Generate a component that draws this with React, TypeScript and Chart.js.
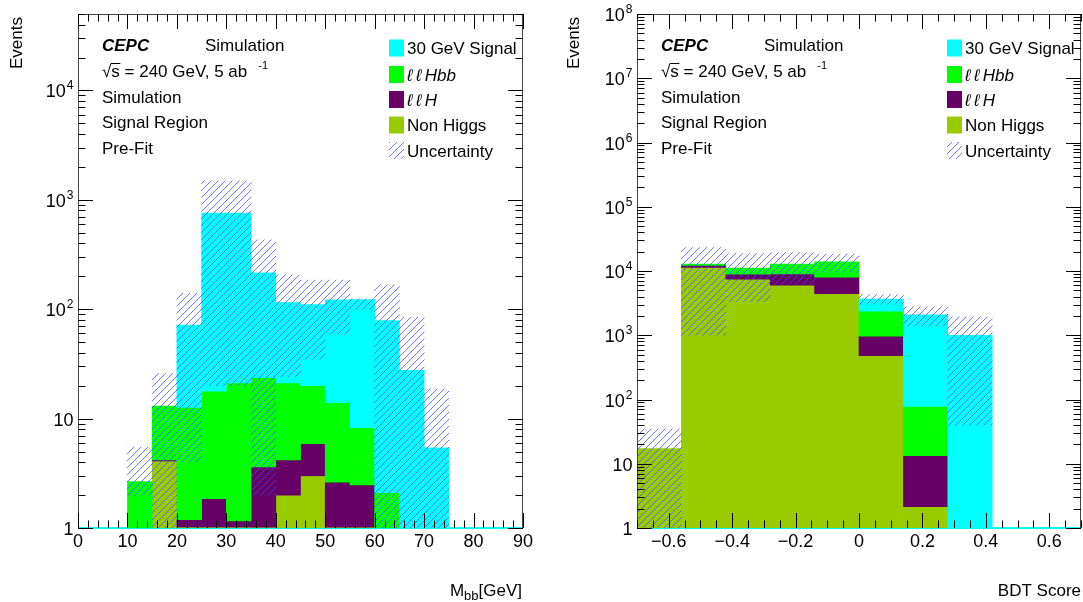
import React, { useEffect, useRef } from "react";
import { Chart, registerables } from "chart.js";
Chart.register(...registerables);

const FONT = "'Liberation Sans', Arial, Helvetica, sans-serif";

// ---------------- Left panel: M_bb ----------------
const mbbBinCenters = [12.5, 17.5, 22.5, 27.5, 32.5, 37.5, 42.5, 47.5, 52.5, 57.5, 62.5, 67.5, 72.5];
const mbbNonHiggs = [0, 4.1, 1.02, 1.02, 1.02, 1.02, 2.0, 3.0, 1.02, 1.02, 0, 0, 0];
const mbbLLH = [0, 0.1, 0.17, 0.83, 0.14, 2.6, 2.2, 2.9, 1.6, 1.45, 0, 0, 0];
const mbbLLHbb = [2.65, 8.8, 11.5, 16.0, 20.0, 20.1, 17.0, 14.1, 11.4, 5.8, 2.1, 0, 0];
const mbbSignal = [0, 0, 59, 737, 734, 192, 94, 90, 108, 114, 76.6, 27.6, 5.4];
const mbbUncLow = [2.0, 1, 4, 20, 20, 2, 24, 35, 59, 100, 1, 1, 1];
const mbbUncHigh = [5.5, 25.8, 140, 1490, 1490, 430, 206, 185, 185, 124, 167, 84.5, 18.6];
const mbbXTicks = [0, 10, 20, 30, 40, 50, 60, 70, 80, 90];
const mbbXTickLabels = ["0", "10", "20", "30", "40", "50", "60", "70", "80", "90"];
const mbbYTicks = [1, 10, 100, 1000, 10000];

// ---------------- Right panel: BDT score ----------------
const bdtBinCenters = [-0.63, -0.49, -0.35, -0.21, -0.07, 0.07, 0.21, 0.35, 0.49, 0.63];
const bdtNonHiggs = [17.3, 11400, 7450, 6020, 4430, 481, 2.14, 0, 0, 0];
const bdtLLH = [0, 800, 1440, 2980, 3570, 485, 11.2, 0, 0, 0];
const bdtLLHbb = [0, 600, 2210, 3800, 5900, 1404, 64.7, 0, 0, 0];
const bdtSignal = [0, 0, 0, 0, 0, 1290, 2002, 1000, 0, 0];
const bdtUncLow = [1, 1000, 3370, 6200, 9500, 3040, 1400, 40, 0, 0];
const bdtUncHigh = [35, 23100, 18700, 19400, 18300, 4280, 2760, 1940, 0, 0];
const bdtXTicks = [-0.6, -0.4, -0.2, 0, 0.2, 0.4, 0.6];
const bdtXTickLabels = ["\u22120.6", "\u22120.4", "\u22120.2", "0", "0.2", "0.4", "0.6"];
const bdtYTicks = [1, 10, 1e2, 1e3, 1e4, 1e5, 1e6, 1e7, 1e8];

// legend / series
const legendLabels = ["30 GeV Signal", "\u2113\u2009\u2113\u2009Hbb", "\u2113\u2009\u2113\u2009H", "Non Higgs", "Uncertainty"];
const infoLines = ["Simulation", "Signal Region", "Pre-Fit"];

const C_SIGNAL = "#00ffff";
const C_LLHBB = "#00ff00";
const C_LLH = "#660066";
const C_NONHIGGS = "#99cc00";
const LAYER_COLORS = [C_NONHIGGS, C_LLH, C_LLHBB, C_SIGNAL]; // bottom -> top
const FRAME = "#444";

type PanelCfg = {
  key: string;
  left: number;
  width: number;
  yAxisWidth: number;
  padRight: number;
  xMin: number;
  xMax: number;
  yMin: number;
  yMax: number;
  xStep: number;
  xMinorStep: number;
  binCenters: number[];
  layers: number[][];
  uncLow: number[];
  uncHigh: number[];
  xTicks: number[];
  xTickLabels: string[];
  yTicks: number[];
  xTitle: "mbb" | "bdt";
  titleX: number;
};

function makeHatch(ctx: CanvasRenderingContext2D): CanvasPattern | string {
  const s = 7;
  const c = document.createElement("canvas");
  c.width = s;
  c.height = s;
  const g = c.getContext("2d")!;
  g.strokeStyle = "rgba(70,70,255,0.75)";
  g.lineWidth = 1;
  g.beginPath();
  g.moveTo(0, s);
  g.lineTo(s, 0);
  g.moveTo(-1, 1);
  g.lineTo(1, -1);
  g.moveTo(s - 1, s + 1);
  g.lineTo(s + 1, s - 1);
  g.stroke();
  return ctx.createPattern(c, "repeat") || "rgba(70,70,255,0.3)";
}

function stackRanges(layers: number[][], base: number) {
  const n = layers[0].length;
  const cum = new Array(n).fill(0);
  return layers.map((layer) =>
    layer.map((v, i) => {
      const lo = cum[i] > 0 ? cum[i] : base;
      cum[i] += v;
      return [lo, cum[i]];
    })
  );
}

function drawPow(ctx: CanvasRenderingContext2D, v: number, xr: number, yb: number) {
  const e = Math.round(Math.log10(v));
  ctx.textAlign = "right";
  ctx.textBaseline = "alphabetic";
  if (e <= 1) {
    ctx.font = `18px ${FONT}`;
    ctx.fillText(e === 0 ? "1" : "10", xr, yb);
    return;
  }
  ctx.font = `12px ${FONT}`;
  const s = String(e);
  const sw = ctx.measureText(s).width;
  ctx.fillText(s, xr, yb - 8);
  ctx.font = `18px ${FONT}`;
  ctx.fillText("10", xr - sw - 1, yb);
}

function makePlugin(cfg: PanelCfg, hatchRef: { p: CanvasPattern | string | null }) {
  return {
    id: "rootStyle" + cfg.key,
    beforeDatasetsDraw(chart: any) {
      const { ctx, chartArea: a } = chart;
      ctx.save();
      ctx.strokeStyle = FRAME;
      ctx.lineWidth = 1;
      ctx.beginPath();
      ctx.moveTo(a.left, a.bottom - 0.5);
      ctx.lineTo(a.right, a.bottom - 0.5);
      ctx.stroke();
      ctx.restore();
    },
    afterDatasetsDraw(chart: any) {
      const { ctx, chartArea: a, scales } = chart;
      const x = scales.x;
      const y = scales.y;
      ctx.save();
      // frame (left, top, right)
      ctx.strokeStyle = FRAME;
      ctx.lineWidth = 1;
      ctx.beginPath();
      ctx.moveTo(a.left + 0.5, a.bottom);
      ctx.lineTo(a.left + 0.5, a.top + 0.5);
      ctx.lineTo(a.right - 0.5, a.top + 0.5);
      ctx.lineTo(a.right - 0.5, a.bottom);
      ctx.stroke();

      // ticks
      ctx.strokeStyle = "#000";
      ctx.beginPath();
      const nMinor = Math.round((cfg.xMax - cfg.xMin) / cfg.xMinorStep);
      const start = Math.ceil(cfg.xMin / cfg.xMinorStep - 1e-6);
      for (let k = start; k * cfg.xMinorStep <= cfg.xMax + 1e-9 && k - start <= nMinor + 1; k++) {
        const v = k * cfg.xMinorStep;
        const ratio = v / cfg.xStep;
        const major = Math.abs(ratio - Math.round(ratio)) < 1e-6;
        const len = major ? 15 : 7.5;
        const px = Math.round(x.getPixelForValue(v)) + 0.5;
        ctx.moveTo(px, a.bottom);
        ctx.lineTo(px, a.bottom - len);
        ctx.moveTo(px, a.top);
        ctx.lineTo(px, a.top + len);
      }
      const d0 = Math.round(Math.log10(cfg.yMin));
      const d1 = Math.ceil(Math.log10(cfg.yMax));
      for (let d = d0; d <= d1; d++) {
        for (let m = 1; m <= 9; m++) {
          const v = m * Math.pow(10, d);
          if (v > cfg.yMax * 1.0001 || v < cfg.yMin) continue;
          const len = m === 1 ? 15 : 7.5;
          const py = Math.round(y.getPixelForValue(v)) + 0.5;
          ctx.moveTo(a.left, py);
          ctx.lineTo(a.left + len, py);
          ctx.moveTo(a.right, py);
          ctx.lineTo(a.right - len, py);
        }
      }
      ctx.stroke();

      // tick labels
      ctx.fillStyle = "#000";
      ctx.font = `18px ${FONT}`;
      ctx.textAlign = "center";
      ctx.textBaseline = "alphabetic";
      cfg.xTicks.forEach((v, i) => {
        ctx.fillText(cfg.xTickLabels[i], x.getPixelForValue(v), a.bottom + 19);
      });
      cfg.yTicks.forEach((v) => {
        drawPow(ctx, v, a.left - 4.5, y.getPixelForValue(v) + 7);
      });

      // axis titles
      ctx.save();
      ctx.font = `17px ${FONT}`;
      ctx.translate(cfg.titleX, 17);
      ctx.rotate(-Math.PI / 2);
      ctx.textAlign = "right";
      ctx.textBaseline = "middle";
      ctx.fillText("Events", 0, 0);
      ctx.restore();

      const xr = a.right - 1;
      const xb = 596;
      ctx.textAlign = "left";
      if (cfg.xTitle === "mbb") {
        ctx.font = `17px ${FONT}`;
        const w1 = ctx.measureText("[GeV]").width;
        const wM = ctx.measureText("M").width;
        ctx.font = `13px ${FONT}`;
        const w2 = ctx.measureText("bb").width;
        const x0 = xr - w1 - w2 - wM;
        ctx.font = `17px ${FONT}`;
        ctx.fillText("M", x0, xb);
        ctx.fillText("[GeV]", x0 + wM + w2, xb);
        ctx.font = `13px ${FONT}`;
        ctx.fillText("bb", x0 + wM, xb + 4);
      } else {
        ctx.font = `17px ${FONT}`;
        ctx.textAlign = "right";
        ctx.fillText("BDT Score", xr + 1, xb);
      }

      // info text block
      const tx = a.left + 24;
      const base = [51, 77, 103, 128, 154];
      ctx.textAlign = "left";
      ctx.font = `italic bold 17px ${FONT}`;
      ctx.fillText("CEPC", tx, base[0]);
      ctx.font = `17px ${FONT}`;
      ctx.fillText("Simulation", a.left + 127, base[0]);
      // sqrt(s) line
      const sq = "\u221A";
      const wsq = ctx.measureText(sq).width;
      ctx.fillText(sq, tx, base[1]);
      const ws = ctx.measureText("s").width;
      ctx.fillText("s", tx + wsq, base[1]);
      ctx.beginPath();
      ctx.lineWidth = 1;
      ctx.strokeStyle = "#000";
      ctx.moveTo(tx + wsq - 0.5, base[1] - 13.5);
      ctx.lineTo(tx + wsq + ws + 0.5, base[1] - 13.5);
      ctx.stroke();
      const rest = " = 240 GeV, 5 ab";
      ctx.fillText(rest, tx + wsq + ws, base[1]);
      const wr = ctx.measureText(rest).width;
      ctx.font = `11px ${FONT}`;
      ctx.fillText("-1", tx + wsq + ws + wr + 11, base[1] - 8);
      ctx.font = `17px ${FONT}`;
      infoLines.forEach((t, i) => ctx.fillText(t, tx, base[2 + i]));

      // legend
      const bx = a.right - 134;
      const rows = [48, 74.5, 99.5, 125, 150.5];
      const boxColors = [C_SIGNAL, C_LLHBB, C_LLH, C_NONHIGGS];
      rows.forEach((cy, i) => {
        if (i < 4) {
          ctx.fillStyle = boxColors[i];
          ctx.fillRect(bx, cy - 8.5, 15, 17);
        } else if (hatchRef.p) {
          ctx.fillStyle = hatchRef.p as any;
          ctx.fillRect(bx, cy - 8.5, 15, 17);
        }
        ctx.fillStyle = "#000";
        ctx.font = i === 1 || i === 2 ? `italic 17px ${FONT}` : `17px ${FONT}`;
        ctx.fillText(legendLabels[i], bx + 18, cy + 6);
      });
      ctx.restore();
    },
  };
}

function Panel({ cfg }: { cfg: PanelCfg }) {
  const ref = useRef<HTMLCanvasElement>(null);
  useEffect(() => {
    const canvas = ref.current!;
    const ctx = canvas.getContext("2d")!;
    const hatch = makeHatch(ctx);
    const hatchRef = { p: hatch };
    const ranges = stackRanges(cfg.layers, cfg.yMin);
    const common = {
      borderWidth: 0,
      grouped: false,
      barPercentage: 1,
      categoryPercentage: 1,
      clip: 0,
    };
    const layerNames = ["Non Higgs", "llH", "llHbb", "30 GeV Signal"];
    const layerSets = cfg.layers.map((layer, li) => ({
      type: "bar" as const,
      label: layerNames[li],
      data: cfg.binCenters
        .map((xv, i) => ({ x: xv, y: ranges[li][i] }))
        .filter((_, i) => layer[i] > 0),
      backgroundColor: LAYER_COLORS[li],
      ...common,
    }));
    const uncSet = {
      type: "bar" as const,
      label: "Uncertainty",
      data: cfg.binCenters
        .map((xv, i) => ({ x: xv, y: [cfg.uncLow[i], cfg.uncHigh[i]] }))
        .filter((_, i) => cfg.uncHigh[i] > 0),
      backgroundColor: hatch as any,
      ...common,
    };
    const baseLine = {
      type: "line" as const,
      label: "base",
      data: [
        { x: cfg.xMin, y: cfg.yMin },
        { x: cfg.xMax, y: cfg.yMin },
      ],
      borderColor: C_SIGNAL,
      borderWidth: 2,
      pointRadius: 0,
      clip: { left: 0, right: 0, top: 0, bottom: 2 },
    };
    const datasets: any[] = [uncSet, ...layerSets.slice().reverse(), baseLine];
    const chart = new Chart(canvas, {
      type: "bar",
      data: { datasets },
      options: {
        responsive: false,
        animation: false,
        maintainAspectRatio: false,
        events: [],
        layout: { padding: { left: 0, right: cfg.padRight, top: 14, bottom: 0 } },
        plugins: { legend: { display: false }, tooltip: { enabled: false }, title: { display: false } },
        scales: {
          x: {
            type: "linear",
            min: cfg.xMin,
            max: cfg.xMax,
            offset: false,
            grid: { display: false },
            border: { display: false },
            ticks: { display: false, stepSize: cfg.xStep },
            afterBuildTicks: (s: any) => {
              s.ticks = s.ticks.filter((t: any) => {
                const r = t.value / cfg.xStep;
                return Math.abs(r - Math.round(r)) < 1e-6;
              });
            },
            afterFit: (s: any) => {
              s.height = 602 - 528;
            },
          },
          y: {
            type: "logarithmic",
            min: cfg.yMin,
            max: cfg.yMax,
            grid: { display: false },
            border: { display: false },
            ticks: { display: false },
            afterFit: (s: any) => {
              s.width = cfg.yAxisWidth;
            },
          },
        },
      } as any,
      plugins: [makePlugin(cfg, hatchRef) as any],
    });
    return () => chart.destroy();
  }, [cfg]);
  return (
    <canvas
      ref={ref}
      width={cfg.width}
      height={602}
      style={{ position: "absolute", left: cfg.left, top: 0, width: cfg.width, height: 602 }}
    />
  );
}

const leftCfg: PanelCfg = {
  key: "mbb",
  left: 0,
  width: 541,
  yAxisWidth: 78,
  padRight: 18,
  xMin: 0,
  xMax: 90,
  yMin: 1,
  yMax: 5e4,
  xStep: 10,
  xMinorStep: 2,
  binCenters: mbbBinCenters,
  layers: [mbbNonHiggs, mbbLLH, mbbLLHbb, mbbSignal],
  uncLow: mbbUncLow,
  uncHigh: mbbUncHigh,
  xTicks: mbbXTicks,
  xTickLabels: mbbXTickLabels,
  yTicks: mbbYTicks,
  xTitle: "mbb",
  titleX: 17,
};

const rightCfg: PanelCfg = {
  key: "bdt",
  left: 541,
  width: 542,
  yAxisWidth: 96,
  padRight: 2,
  xMin: -0.7,
  xMax: 0.7,
  yMin: 1,
  yMax: 1e8,
  xStep: 0.2,
  xMinorStep: 0.05,
  binCenters: bdtBinCenters,
  layers: [bdtNonHiggs, bdtLLH, bdtLLHbb, bdtSignal],
  uncLow: bdtUncLow,
  uncHigh: bdtUncHigh,
  xTicks: bdtXTicks,
  xTickLabels: bdtXTickLabels,
  yTicks: bdtYTicks,
  xTitle: "bdt",
  titleX: 33,
};

export default function App() {
  return (
    <div style={{ position: "fixed", left: 0, top: 0, width: 1083, height: 602, background: "#fff", overflow: "hidden" }}>
      <Panel cfg={leftCfg} />
      <Panel cfg={rightCfg} />
    </div>
  );
}
